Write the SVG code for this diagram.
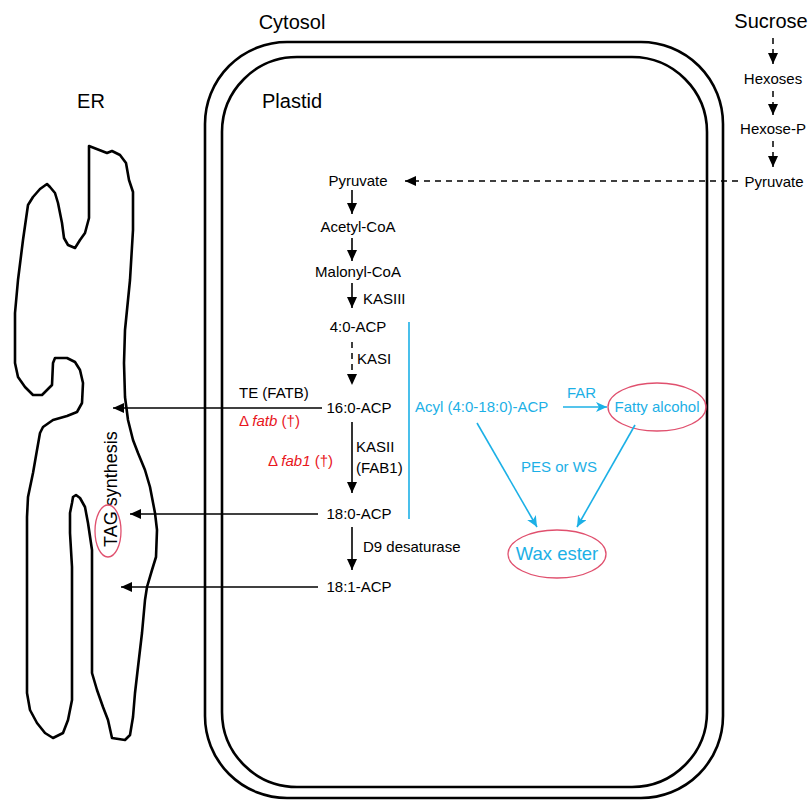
<svg xmlns="http://www.w3.org/2000/svg" width="810" height="800" viewBox="0 0 810 800">
<defs>
<style>
text{font-family:"Liberation Sans",Arial,sans-serif;}
.t{font-size:15px;fill:#000;}
.big{font-size:20px;fill:#000;}
.c{font-size:15px;fill:#1cb0e6;}
.r{font-size:15px;fill:#e8161c;}
.mid{text-anchor:middle;}
.ln{stroke:#000;stroke-width:1.6;fill:none;}
.dash{stroke:#000;stroke-width:1.5;fill:none;stroke-dasharray:6,5;}
.cl{stroke:#1cb0e6;stroke-width:1.6;fill:none;}
.el{fill:none;stroke:#e0506e;stroke-width:1.3;}
.box{fill:none;stroke:#000;stroke-width:2.6;}
</style>
<marker id="ah" markerUnits="userSpaceOnUse" markerWidth="12" markerHeight="10" refX="11" refY="5" orient="auto"><path d="M0,0 L11,5 L0,10 z" fill="#000"/></marker>
<marker id="ahc" markerUnits="userSpaceOnUse" markerWidth="12" markerHeight="10" refX="11" refY="5" orient="auto"><path d="M0,0 L11,5 L0,10 L3,5 z" fill="#1cb0e6"/></marker>
</defs>

<g id="cytosol">
<rect class="box" x="205" y="42" width="518" height="756" rx="82" ry="82"/>
<text class="big" x="292" y="29" text-anchor="middle">Cytosol</text>
</g>
<g id="plastid">
<rect class="box" x="222" y="57" width="485" height="730" rx="75" ry="75"/>
<text class="big" x="292" y="108" text-anchor="middle">Plastid</text>
</g>

<g id="er">
<path class="box" stroke-linejoin="round" d="M89,146 L107,153 L112,151 L120,155 L126,163 L129,180 L133,192 L133,230 L130,280 L125,330 L124,363 L125,397 L128,420 L133,440 L138,453 L145,470 L150,487 L155,513 L157,530 L156,557 L152,570 L147,587 L145,600 L142,633 L138,667 L135,693 L133,717 L130,735 L125,740 L112,738 L108,720 L103,707 L97,690 L92,673 L92,550 L88,523 L85,507 L80,498 L76,495 L73,497 L72,503 L70,513 L70,533 L72,567 L72,700 L68,720 L63,733 L53,738 L45,733 L37,723 L30,710 L27,693 L27,517 L28,497 L33,473 L37,450 L40,433 L43,427 L53,420 L67,416 L77,412 L82,403 L83,383 L80,370 L75,362 L67,358 L55,358 L53,363 L52,385 L47,390 L42,395 L33,395 L25,387 L18,377 L15,363 L15,313 L18,280 L23,240 L28,205 L33,197 L40,189 L47,184 L50,187 L55,193 L58,203 L62,223 L64,238 L68,245 L75,248 L80,240 L85,233 L89,218 Z"/>
<text class="big" x="91" y="108" text-anchor="middle">ER</text>
<text transform="translate(117,547) rotate(-90)" style="font-size:18px;fill:#000">TAG synthesis</text>
<ellipse class="el" cx="108" cy="531" rx="13" ry="26"/>
</g>

<g id="sucrose-path">
<text class="big" x="771" y="28" text-anchor="middle">Sucrose</text>
<text class="t mid" x="773" y="84">Hexoses</text>
<text class="t mid" x="773" y="134">Hexose-P</text>
<text class="t mid" x="774" y="187">Pyruvate</text>
</g>

<g id="plastid-pathway">
<text class="t mid" x="358" y="186">Pyruvate</text>
<text class="t mid" x="358" y="232">Acetyl-CoA</text>
<text class="t mid" x="358" y="277">Malonyl-CoA</text>
<text class="t" x="363" y="304">KASIII</text>
<text class="t mid" x="358" y="332">4:0-ACP</text>
<text class="t" x="357" y="364">KASI</text>
<text class="t mid" x="359" y="413">16:0-ACP</text>
<text class="t" x="239" y="398">TE (FATB)</text>
<text class="r" x="239" y="426">Δ <tspan font-style="italic">fatb</tspan> (†)</text>
<text class="r" x="268" y="466">Δ <tspan font-style="italic">fab1</tspan> (†)</text>
<text class="t" x="356" y="452">KASII</text>
<text class="t" x="356" y="473">(FAB1)</text>
<text class="t mid" x="359" y="519">18:0-ACP</text>
<text class="t" x="363" y="552">D9 desaturase</text>
<text class="t mid" x="359" y="592">18:1-ACP</text>
</g>

<g id="wax-path">
<text class="c" x="415" y="412">Acyl (4:0-18:0)-ACP</text>
<text class="c" x="567" y="398">FAR</text>
<text class="c mid" x="657" y="412">Fatty alcohol</text>
<ellipse class="el" cx="657" cy="407" rx="49" ry="24"/>
<text class="c mid" x="559" y="472">PES or WS</text>
<text class="c mid" x="557" y="560" style="font-size:18.5px">Wax ester</text>
<ellipse class="el" cx="557" cy="554" rx="49" ry="24"/>
</g>

<g id="connectors">
<line class="dash" x1="773" y1="38" x2="773" y2="64" marker-end="url(#ah)"/>
<line class="dash" x1="773" y1="91" x2="773" y2="115" marker-end="url(#ah)"/>
<line class="dash" x1="773" y1="141" x2="773" y2="167" marker-end="url(#ah)"/>
<line class="dash" x1="738" y1="181" x2="405" y2="181" marker-end="url(#ah)"/>
<line class="ln" x1="352" y1="190" x2="352" y2="214" marker-end="url(#ah)"/>
<line class="ln" x1="352" y1="238" x2="352" y2="261" marker-end="url(#ah)"/>
<line class="ln" x1="352" y1="283" x2="352" y2="308" marker-end="url(#ah)"/>
<line class="dash" x1="352" y1="342" x2="352" y2="385" marker-end="url(#ah)"/>
<line class="ln" x1="352" y1="422" x2="352" y2="493" marker-end="url(#ah)"/>
<line class="ln" x1="352" y1="527" x2="352" y2="570" marker-end="url(#ah)"/>
<line class="ln" stroke-width="1.3" x1="322" y1="408" x2="113" y2="408" marker-end="url(#ah)"/>
<line class="ln" stroke-width="1.3" x1="318" y1="514" x2="130" y2="514" marker-end="url(#ah)"/>
<line class="ln" stroke-width="1.3" x1="318" y1="587" x2="121" y2="587" marker-end="url(#ah)"/>
<line class="cl" stroke-width="2" x1="409" y1="322" x2="409" y2="519"/>
<line class="cl" x1="563" y1="407" x2="607" y2="407" marker-end="url(#ahc)"/>
<line class="cl" x1="477" y1="423" x2="537" y2="527" marker-end="url(#ahc)"/>
<line class="cl" x1="635" y1="425" x2="577" y2="527" marker-end="url(#ahc)"/>
</g>
</svg>
